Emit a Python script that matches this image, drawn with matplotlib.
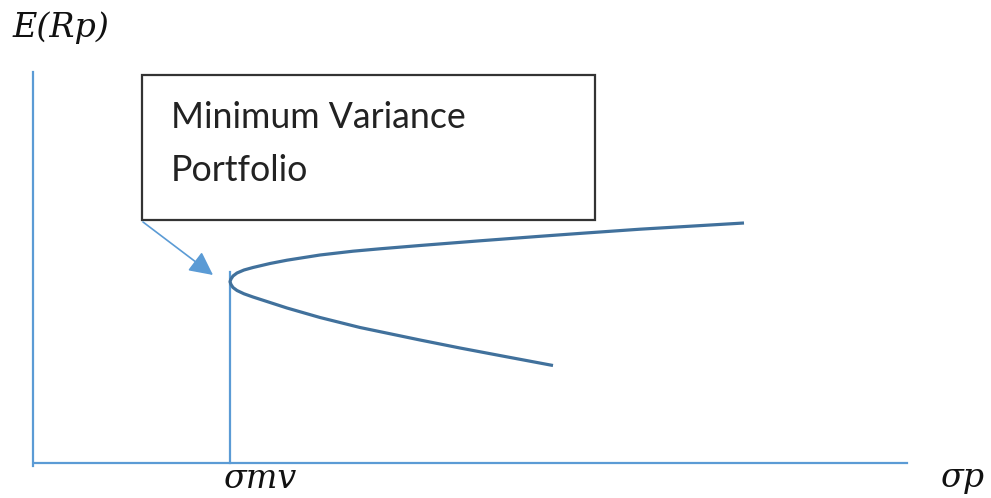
import matplotlib
matplotlib.use("Agg")
from matplotlib import pyplot as plt
from matplotlib.patches import Rectangle

# frontier points (sigma_p, E(Rp)), lower end -> vertex -> upper end
sigma_lower = [5.20, 4.72, 4.27, 3.87, 3.27, 2.87, 2.54, 2.37, 2.20, 2.11, 2.04, 2.00, 1.98]
ret_lower = [0.975, 1.065, 1.15, 1.23, 1.355, 1.455, 1.55, 1.605, 1.66, 1.692, 1.725, 1.755, 1.785]
sigma_upper = [1.97, 1.98, 2.00, 2.04, 2.11, 2.20, 2.37, 2.54, 2.87, 3.20, 3.47, 3.87, 4.47,
               5.07, 5.47, 6.07, 7.11]
ret_upper = [1.813, 1.84, 1.87, 1.90, 1.93, 1.955, 1.995, 2.028, 2.08, 2.118, 2.142, 2.175, 2.222,
             2.267, 2.296, 2.338, 2.40]

sigma_mv = 1.965
axis_top = 3.91
axis_right = 8.74

box_text = ["Minimum Variance", "Portfolio"]
y_label = "E(Rp)"
x_label = "σp"
mv_label = "σmv"

axis_blue = "#5B9BD5"
curve_blue = "#41719C"

fig = plt.figure(figsize=(9.91, 4.98), dpi=100)
ax = fig.add_axes([0, 0, 1, 1])
ax.set_xlim(-0.33, 9.58)
ax.set_ylim(-0.35, 4.63)
ax.axis("off")

# axes
ax.plot([0, 0], [-0.03, axis_top], color=axis_blue, lw=1.6)
ax.plot([0.02, axis_right], [0, 0], color=axis_blue, lw=1.6)
ax.plot([sigma_mv, sigma_mv], [0, 1.91], color=axis_blue, lw=1.6)

# frontier
ax.plot(sigma_lower + sigma_upper, ret_lower + ret_upper, color=curve_blue, lw=2.3,
        solid_capstyle="butt", solid_joinstyle="round")

# text box
ax.add_patch(Rectangle((1.09, 2.43), 4.53, 1.45, fill=False, edgecolor="#333333", lw=1.6))
ax.text(1.38, 3.35, box_text[0], fontsize=25.7, family="Lato", color="#222222", va="baseline")
ax.text(1.38, 2.82, box_text[1], fontsize=25.7, family="Lato", color="#222222", va="baseline")

ax.annotate("", xy=(1.80, 1.88), xytext=(1.10, 2.41),
            arrowprops=dict(arrowstyle="-|>", color=axis_blue, lw=1.2, mutation_scale=36,
                            shrinkA=0, shrinkB=0))

# labels
ax.text(-0.21, 4.26, y_label, fontsize=24, family="DejaVu Serif", style="italic",
        color="#111111", va="baseline")
ax.text(sigma_mv + 0.3, -0.25, mv_label, fontsize=24, family="DejaVu Serif", style="italic",
        color="#111111", va="baseline", ha="center")
ax.text(9.07, -0.24, x_label, fontsize=24, family="DejaVu Serif", style="italic",
        color="#111111", va="baseline")

fig.savefig("out.png", dpi=100)
